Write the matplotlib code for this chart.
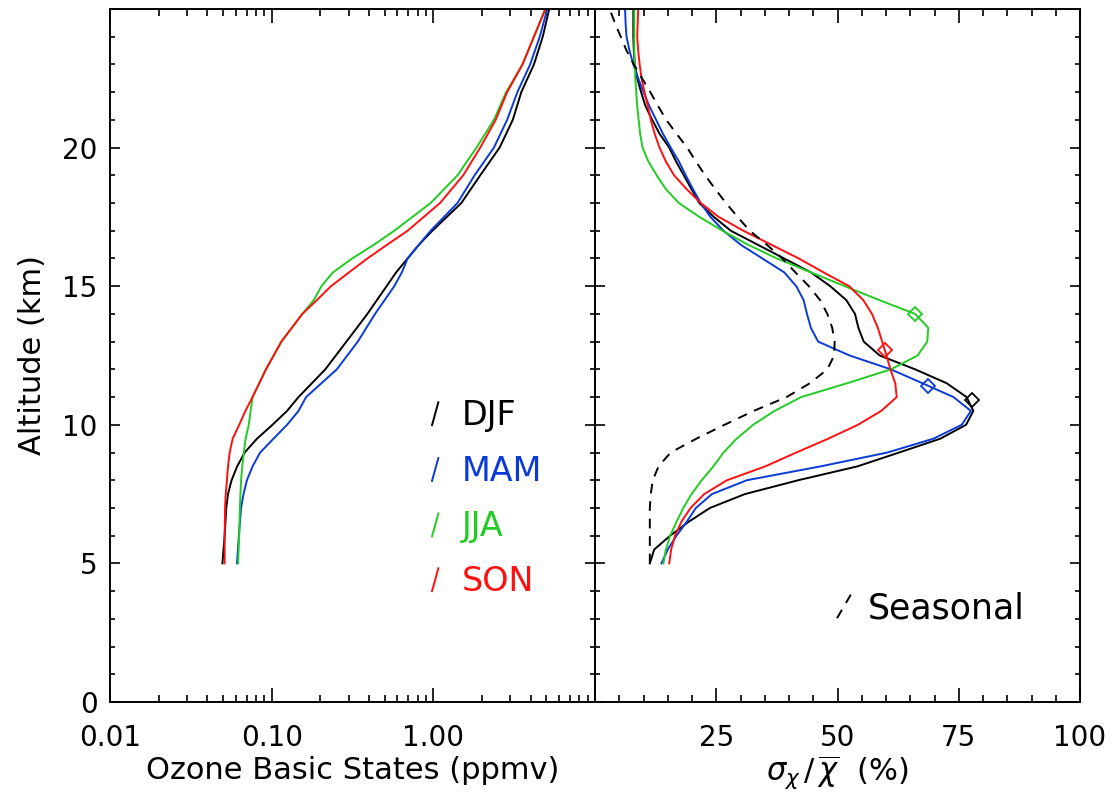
import matplotlib
matplotlib.use('Agg')
import matplotlib.pyplot as plt
from matplotlib.ticker import FixedLocator, MultipleLocator, NullFormatter

plt.rcParams['font.family'] = 'DejaVu Sans'

seasons = ['DJF', 'MAM', 'JJA', 'SON']
colors = ['black', '#0a3ad8', '#22cc22', '#ff1010']

# left panel: ozone basic states (ppmv) vs altitude (km)
z_left = [5, 6, 7, 7.5, 8, 8.5, 9, 9.5, 10, 10.5, 11, 12, 13, 14, 14.5, 15,
          15.5, 16, 16.5, 17, 18, 19, 20, 21, 22, 23, 24, 25]
ozone_djf = [0.0496, 0.0512, 0.0524, 0.0537, 0.0565, 0.0612, 0.0681, 0.0812,
             0.1012, 0.1245, 0.1466, 0.2147, 0.290, 0.391, 0.448, 0.514,
             0.589, 0.693, 0.816, 0.986, 1.49, 1.95, 2.57, 3.10, 3.50, 4.19,
             4.75, 5.21]
ozone_mam = [0.0610, 0.0627, 0.0647, 0.0670, 0.0703, 0.0762, 0.0849, 0.1028,
             0.1245, 0.1466, 0.1634, 0.2529, 0.341, 0.436, 0.500, 0.573,
             0.639, 0.693, 0.816, 0.962, 1.41, 1.80, 2.37, 2.86, 3.31, 3.97,
             4.55, 5.07]
ozone_jja = [0.0620, 0.0630, 0.0636, 0.0641, 0.0647, 0.0658, 0.0673, 0.0690,
             0.0722, 0.0741, 0.0762, 0.0922, 0.1148, 0.1549, 0.1824, 0.2032,
             0.2395, 0.315, 0.430, 0.573, 0.962, 1.41, 1.85, 2.37, 2.82, 3.56,
             4.19, 4.93]
ozone_son = [0.0512, 0.0512, 0.0515, 0.0520, 0.0529, 0.0537, 0.0550, 0.0574,
             0.0630, 0.0688, 0.0762, 0.0922, 0.1148, 0.1549, 0.1905, 0.2329,
             0.301, 0.391, 0.519, 0.693, 1.10, 1.53, 1.95, 2.43, 2.86, 3.56,
             4.19, 4.93]

# right panel: relative variability (%) vs altitude (km), every 0.5 km
z_right = [5, 5.5, 6, 6.5, 7, 7.5, 8, 8.5, 9, 9.5, 10, 10.5, 11, 11.5, 12,
           12.5, 13, 13.5, 14, 14.5, 15, 15.5, 16, 16.5, 17, 17.5, 18, 18.5,
           19, 19.5, 20, 20.5, 21, 21.5, 22, 22.5, 23, 23.5, 24, 24.5, 25]
var_djf = [11.3, 12.2, 15.5, 19.3, 23.7, 30.9, 41.9, 54.1, 62.7, 71.2, 76.5,
           78.0, 76.6, 72.5, 66.0, 58.7, 55.4, 54.3, 53.6, 51.8, 48.5, 44.5,
           39.0, 33.5, 28.0, 24.5, 21.5, 19.9, 18.3, 16.7, 15.3, 13.3, 11.8,
           10.4, 9.5, 8.7, 8.2, 8.0, 7.9, 7.9, 7.9]
var_mam = [13.7, 15.0, 16.8, 18.9, 20.8, 24.1, 31.3, 46.5, 60.3, 69.8, 75.6,
           77.5, 73.9, 67.5, 61.0, 52.5, 46.0, 44.5, 43.7, 43.0, 41.5, 39.0,
           34.5, 30.0, 26.5, 23.8, 21.8, 20.2, 18.7, 17.3, 15.6, 14.0, 12.6,
           11.2, 10.0, 8.9, 7.9, 7.1, 6.5, 6.3, 6.2]
var_jja = [14.1, 14.6, 15.5, 16.8, 18.2, 19.9, 22.0, 24.4, 26.5, 29.2, 32.6,
           37.0, 42.5, 52.0, 61.0, 66.5, 68.5, 68.7, 66.0, 58.6, 51.5, 44.5,
           37.5, 31.5, 26.3, 21.5, 17.3, 14.6, 12.7, 11.0, 9.8, 9.3, 9.0,
           8.7, 8.5, 8.3, 8.2, 8.1, 8.1, 8.1, 8.1]
var_son = [15.3, 15.7, 16.5, 17.8, 19.7, 22.5, 27.2, 35.1, 41.5, 48.1, 54.2,
           59.0, 62.2, 61.9, 60.9, 60.1, 59.2, 58.3, 57.1, 55.3, 52.4, 47.1,
           42.0, 36.3, 30.6, 25.5, 21.8, 18.9, 16.3, 14.6, 13.3, 12.3, 11.5,
           10.9, 10.2, 9.6, 9.2, 8.9, 8.7, 8.8, 8.9]
var_seasonal = [11.3, 11.3, 11.3, 11.3, 11.3, 11.5, 11.9, 13.1, 15.6, 20.9,
                26.7, 32.7, 39.5, 44.3, 47.9, 49.3, 49.4, 48.9, 47.9, 46.4,
                44.1, 41.3, 38.6, 35.4, 31.9, 29.4, 27.0, 24.8, 22.7, 20.8,
                19.0, 16.8, 14.7, 13.0, 11.4, 9.7, 8.0, 6.5, 5.3, 4.1, 3.0]

# diamond markers
peak_var = [77.7, 68.7, 66.0, 59.8]
peak_z = [10.88, 11.39, 14.0, 12.71]

ozone = [ozone_djf, ozone_mam, ozone_jja, ozone_son]
var = [var_djf, var_mam, var_jja, var_son]

fig = plt.figure(figsize=(11.13, 7.96), dpi=100)
ax1 = fig.add_axes([0.0988, 0.1181, 0.4358, 0.8706])
ax2 = fig.add_axes([0.5346, 0.1181, 0.4358, 0.8706])

for i in range(4):
    ax1.plot(ozone[i], z_left, color=colors[i], lw=1.4)
    ax2.plot(var[i], z_right, color=colors[i], lw=1.4)
    ax2.plot(peak_var[i], peak_z[i], marker='D', ms=7, mfc='none',
             mec=colors[i], mew=1.3)
ax2.plot(var_seasonal, z_right, color='black', lw=1.4, dashes=(5, 4))

# axes setup
ax1.set_xscale('log')
ax1.set_xlim(0.01, 10)
ax1.set_xticks([0.01, 0.1, 1, 10])
ax1.set_xticklabels(['0.01', '0.10', '1.00', ''])
ax1.xaxis.set_minor_locator(FixedLocator(
    [m * 10.0 ** e for e in (-2, -1, 0) for m in range(2, 10)]))
ax1.xaxis.set_minor_formatter(NullFormatter())
ax1.set_xlabel('Ozone Basic States (ppmv)', fontsize=22, labelpad=3)
ax1.set_ylabel('Altitude (km)', fontsize=22, labelpad=11)

ax2.set_xlim(0, 100)
ax2.set_xticks([0, 25, 50, 75, 100])
ax2.set_xticklabels(['', '25', '50', '75', '100'])
ax2.xaxis.set_minor_locator(MultipleLocator(5))
ax2.set_xlabel(r'$\sigma_\chi\,/\,\overline{\chi}$  (%)', fontsize=22,
               labelpad=1)

for ax in (ax1, ax2):
    ax.set_ylim(0, 25)
    ax.set_yticks([0, 5, 10, 15, 20])
    ax.yaxis.set_minor_locator(MultipleLocator(1))
    ax.tick_params(axis='both', which='both', direction='in', top=True,
                   right=True, width=1.2, labelsize=20)
    ax.tick_params(axis='x', which='major', length=10, pad=16)
    ax.tick_params(axis='x', which='minor', length=5)
    ax.tick_params(axis='y', which='major', length=7, pad=9)
    ax.tick_params(axis='y', which='minor', length=3.3)
    for s in ax.spines.values():
        s.set_linewidth(1.4)
ax2.tick_params(axis='y', labelleft=False)

# legend: small slanted strokes with coloured names
base_y = [0.3995, 0.319, 0.239, 0.160]
for i in range(4):
    ax1.plot([0.664, 0.677], [base_y[i], base_y[i] + 0.033],
             transform=ax1.transAxes, color=colors[i], lw=1.4, clip_on=False)
    ax1.text(0.725, base_y[i], seasons[i], transform=ax1.transAxes,
             color=colors[i], fontsize=24, va='baseline', ha='left')

ax2.plot([0.499, 0.530], [0.121, 0.158], transform=ax2.transAxes,
         color='black', lw=1.4, dashes=(5, 4), clip_on=False)
ax2.text(0.562, 0.1204, 'Seasonal', transform=ax2.transAxes, color='black',
         fontsize=25, va='baseline', ha='left')

plt.savefig('out.png', dpi=100)
